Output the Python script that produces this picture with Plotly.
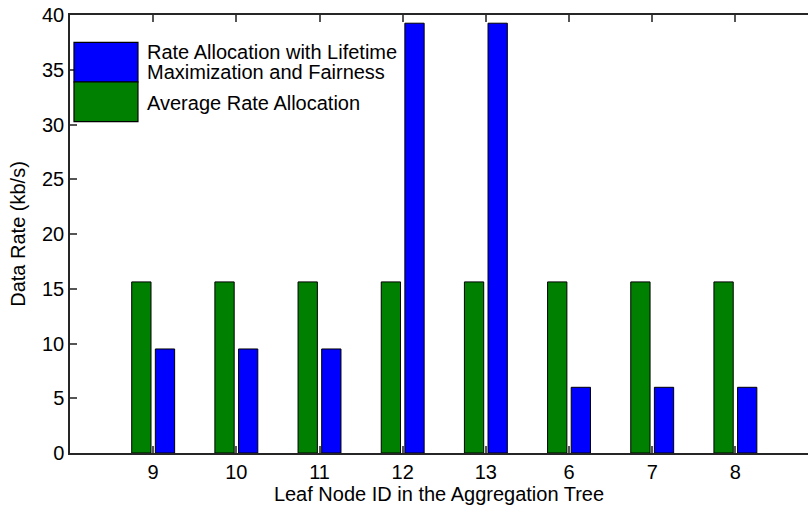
import plotly.graph_objects as go

# Leaf nodes of the aggregation tree, in plotting order
node_ids = ["9", "10", "11", "12", "13", "6", "7", "8"]
positions = [1, 2, 3, 4, 5, 6, 7, 8]

# Data rates in kb/s
avg_rate = [15.625, 15.625, 15.625, 15.625, 15.625, 15.625, 15.625, 15.625]
lifetime_rate = [9.5, 9.5, 9.5, 39.25, 39.25, 6.0, 6.0, 6.0]

series_names = ["Rate Allocation with Lifetime<br>Maximization and Fairness",
                "Average Rate Allocation"]

FONT = "Liberation Sans, Arial, sans-serif"
FS = 20
BLUE = "#0000FF"
GREEN = "#008000"
AXIS = "#262626"

fig = go.Figure()
fig.add_trace(go.Bar(
    x=positions, y=avg_rate, name=series_names[1],
    width=0.232, offset=-0.258,
    marker=dict(color=GREEN, line=dict(color="black", width=1)),
    showlegend=False,
))
fig.add_trace(go.Bar(
    x=positions, y=lifetime_rate, name=series_names[0],
    width=0.232, offset=0.026,
    marker=dict(color=BLUE, line=dict(color="black", width=1)),
    showlegend=False,
))

# Hand-drawn legend: two stacked colour patches with labels
legend_x0, legend_x1 = 0.0054, 0.0921
fig.add_shape(type="rect", xref="paper", yref="paper",
              x0=legend_x0, x1=legend_x1, y0=0.847, y1=0.9377,
              fillcolor=BLUE, line=dict(color="black", width=1.2))
fig.add_shape(type="rect", xref="paper", yref="paper",
              x0=legend_x0, x1=legend_x1, y0=0.7564, y1=0.847,
              fillcolor=GREEN, line=dict(color="black", width=1.2))
legend_lines = series_names[0].split("<br>") + [series_names[1]]
legend_y = [0.9162, 0.869, 0.7984]
for txt, yy in zip(legend_lines, legend_y):
    fig.add_annotation(text=txt, xref="paper", yref="paper", x=0.1016, y=yy,
                       xanchor="left", yanchor="middle", showarrow=False,
                       font=dict(family=FONT, size=FS, color="black"))

fig.update_layout(
    width=808, height=506,
    margin=dict(l=70, r=0, t=15, b=53),
    paper_bgcolor="white", plot_bgcolor="white",
    font=dict(family=FONT, size=FS, color="black"),
    barmode="overlay",
)
fig.update_xaxes(
    range=[0, 8.873],
    tickmode="array", tickvals=positions, ticktext=node_ids,
    ticks="inside", ticklen=7, tickcolor="#555555", tickwidth=1.5,
    showline=True, linecolor=AXIS, linewidth=1.5, mirror="ticks",
    showgrid=False, zeroline=False,
    title=dict(text="Leaf Node ID in the Aggregation Tree", standoff=3,
               font=dict(family=FONT, size=FS)),
)
fig.update_yaxes(
    range=[0, 40], tickmode="array", tickvals=[0, 5, 10, 15, 20, 25, 30, 35, 40],
    ticks="inside", ticklen=7, tickcolor="#555555", tickwidth=1.5,
    showline=True, linecolor=AXIS, linewidth=1.5,
    showgrid=False, zeroline=False,
    title=dict(text="Data Rate (kb/s)", standoff=11, font=dict(family=FONT, size=FS)),
)

fig.write_html("out.html")
